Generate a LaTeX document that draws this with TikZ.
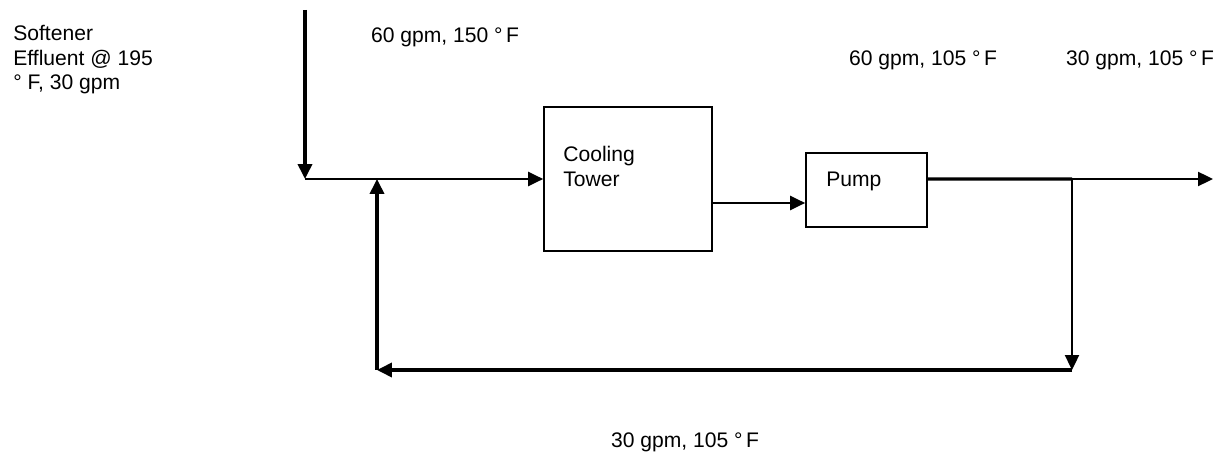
\documentclass[tikz,border=0pt]{standalone}
\usepackage{fontspec}
\setmainfont{Liberation Sans}
\usetikzlibrary{arrows.meta, positioning, calc}
\tikzset{
  >={Triangle[length=8.5pt, width=8pt]},
  unit/.style  = {draw, rectangle, line width=1pt, inner sep=0pt},
  lbl/.style   = {font=\fontsize{12}{14}\selectfont, inner sep=0pt, align=left},
  flow/.style  = {line width=1.1pt},
  main/.style  = {line width=1.9pt},
}

\begin{document}
\begin{tikzpicture}[x=0.02cm, y=-0.02cm]
  \useasboundingbox (0,0) rectangle (1228,452);

  \node[unit, minimum width=3.36cm, minimum height=2.88cm] (tower) at (628,179) {};
  \node[unit, minimum width=2.42cm, minimum height=1.48cm] (pump)  at (866.5,190) {};

  \node[lbl, anchor=north west] (towertxt) at (563,146) {Cooling\\Tower};
  \node[lbl, anchor=base west]  (pumptxt)  at (826,187) {Pump};
  \node[lbl, anchor=north west] (feedtxt)  at (13,25)   {Softener\\Effluent @ 195\\° F, 30 gpm};
  \node[lbl, anchor=base] (mixtxt)  at (445,43)  {60 gpm, 150 °\,F};
  \node[lbl, anchor=base] (outtxt)  at (923,66)  {60 gpm, 105 °\,F};
  \node[lbl, anchor=base] (prodtxt) at (1140,66) {30 gpm, 105 °\,F};
  \node[lbl, anchor=base] (rettxt)  at (685,448) {30 gpm, 105 °\,F};

  \coordinate (src)   at (305,10);
  \coordinate (mix)   at (305,179);
  \coordinate (join)  at (377,179);
  \coordinate (split) at (1072,179);
  \coordinate (prod)  at (1213,179);
  \coordinate (ret1)  at (1072,370);
  \coordinate (ret2)  at (377,370);

  \draw[main, ->] (src) -- (mix);
  \draw[flow, ->] (mix) -- (tower);
  \draw[flow, ->] ([yshift=-0.48cm]tower.east) coordinate (tout) -- (tout -| pump.west);
  \draw[main] ([yshift=0.22cm]pump.east) coordinate (pout) -- (split);
  \draw[flow, ->] (split) -- (prod);
  \draw[flow, ->] (split) -- (ret1);
  \foreach \a/\b in {ret1/ret2, ret2/join}
    \draw[main, ->] (\a) -- (\b);
\end{tikzpicture}
\end{document}
